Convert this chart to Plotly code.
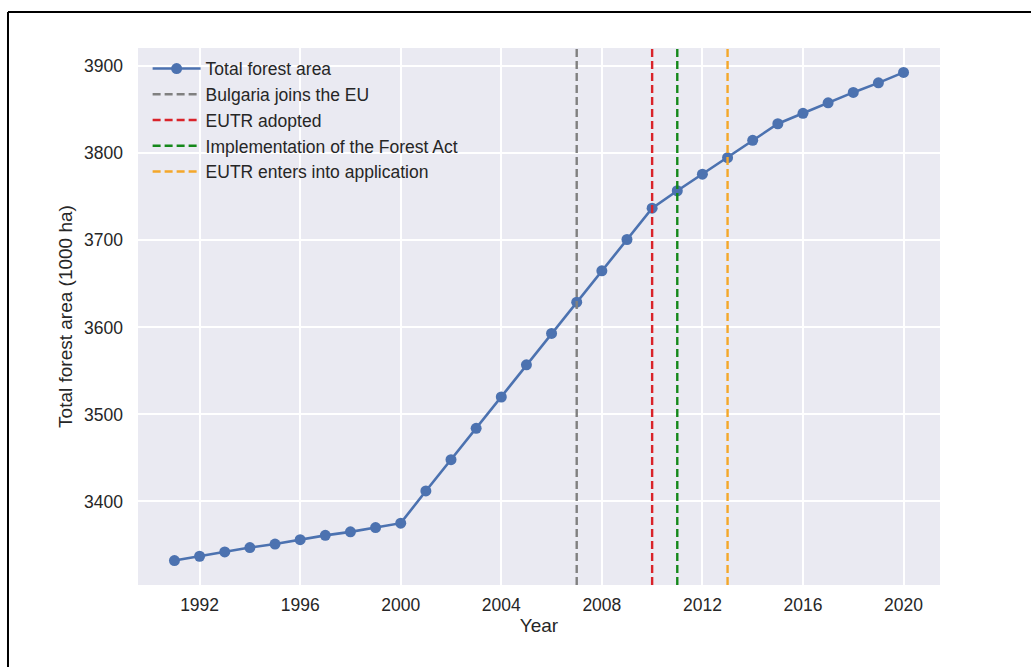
import plotly.graph_objects as go

# Total forest area in Bulgaria, thousand hectares
years = list(range(1991, 2021))
forest_area = [3332, 3337, 3342, 3347, 3351, 3356, 3361, 3365, 3370, 3375,
               3412, 3448, 3484, 3520, 3557, 3593, 3629, 3665, 3701, 3737,
               3757, 3776, 3795, 3815, 3834, 3846, 3858, 3870, 3881, 3893]

# Policy milestones shown as vertical reference lines
event_years = [2007, 2010, 2011, 2013]
event_labels = ["Bulgaria joins the EU", "EUTR adopted",
                "Implementation of the Forest Act", "EUTR enters into application"]
event_colors = ["#808080", "#d9232a", "#14881a", "#f4a72a"]

x_ticks = [1992, 1996, 2000, 2004, 2008, 2012, 2016, 2020]
y_ticks = [3400, 3500, 3600, 3700, 3800, 3900]

# axis limits with a 5% pad around the data, as matplotlib does
x_pad = 0.05 * (max(years) - min(years))
y_pad = 0.05 * (max(forest_area) - min(forest_area))
x_range = [min(years) - x_pad, max(years) + x_pad]
y_range = [min(forest_area) - y_pad, max(forest_area) + y_pad]

text_color = "#262626"
font_family = "Liberation Sans, Arial, sans-serif"

fig = go.Figure()

fig.add_trace(go.Scatter(
    x=years, y=forest_area, mode="lines+markers", name="Total forest area",
    line=dict(color="#4C72B0", width=2.6),
    marker=dict(color="#4C72B0", size=11),
    legendgroup="a",
))

for i, (yr, lab, col) in enumerate(zip(event_years, event_labels, event_colors)):
    fig.add_trace(go.Scatter(
        x=[yr, yr], y=y_range, mode="lines", name=lab,
        line=dict(color=col, width=2.4, dash="8px,4px"),
        legendgroup=f"e{i}",
    ))

# outer frame lines at the top and left of the figure
fig.add_shape(type="line", xref="paper", yref="paper",
              x0=-0.1621, x1=1.2, y0=1.067, y1=1.067,
              line=dict(color="black", width=2))
fig.add_shape(type="line", xref="paper", yref="paper",
              x0=-0.1621, x1=-0.1621, y0=1.067, y1=-0.3,
              line=dict(color="black", width=2))

fig.update_layout(
    width=1031, height=667,
    margin=dict(l=138, r=91, t=48, b=82),
    paper_bgcolor="white",
    plot_bgcolor="#EAEAF2",
    font=dict(family=font_family, size=17, color=text_color),
    showlegend=True,
    legend=dict(
        x=0.012, y=0.995, xanchor="left", yanchor="top",
        bgcolor="rgba(0,0,0,0)",
        font=dict(size=17.5, color=text_color),
        traceorder="grouped", tracegroupgap=0,
        itemwidth=48,
    ),
    xaxis=dict(
        range=x_range, tickvals=x_ticks, ticktext=[str(t) for t in x_ticks],
        showgrid=True, gridcolor="white", gridwidth=1.6,
        zeroline=False, showline=False, ticks="",
        tickfont=dict(size=17.5),
        ticklabelstandoff=7,
        title=dict(text="Year", font=dict(size=19, color=text_color), standoff=5),
    ),
    yaxis=dict(
        range=y_range, tickvals=y_ticks, ticktext=[str(t) for t in y_ticks],
        showgrid=True, gridcolor="white", gridwidth=1.6,
        zeroline=False, showline=False, ticks="",
        tickfont=dict(size=17.5),
        ticklabelstandoff=14,
        title=dict(text="Total forest area (1000 ha)", font=dict(size=19, color=text_color), standoff=6),
    ),
)

fig.write_html("out.html")
